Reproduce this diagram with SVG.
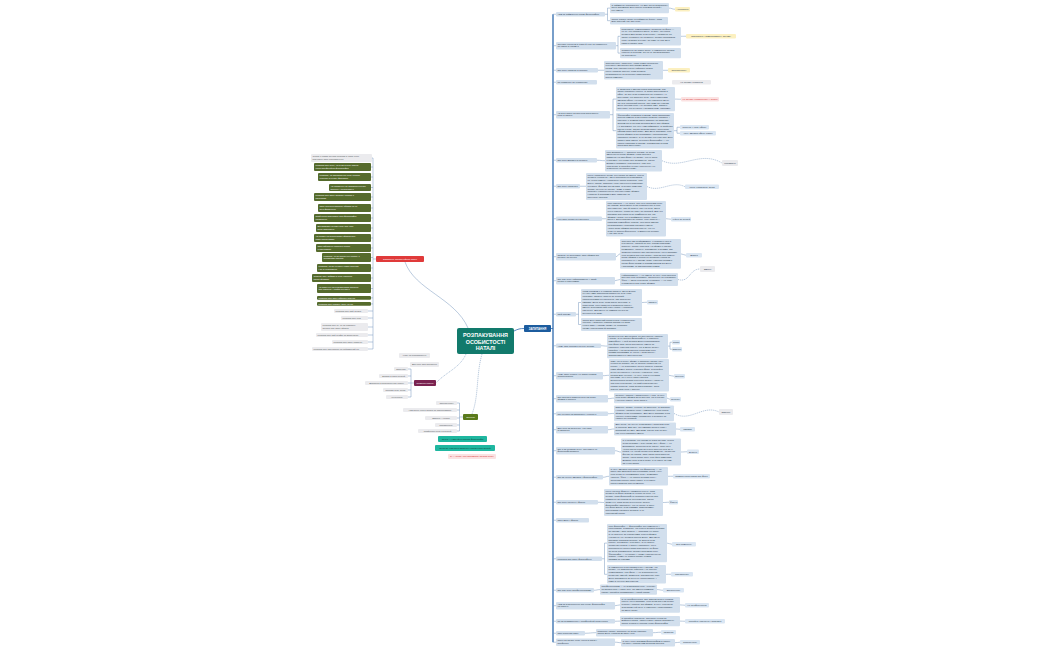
<svg xmlns="http://www.w3.org/2000/svg" width="1050" height="650" viewBox="0 0 1050 650">
<style>
.b{fill:#d2dfed}
.lb{fill:#dae6f3}
.y{fill:#fcf0c0}
.p{fill:#fbe2e2}
.g{fill:#ebebee}
.gr{fill:#566b2c}
.t{font-family:"Liberation Sans",Arial,sans-serif;font-size:2.4px;fill:#2d3e50}
.tw{font-family:"Liberation Sans",Arial,sans-serif;font-size:2.3px;fill:#ffffff}
.tg{font-family:"Liberation Sans",Arial,sans-serif;font-size:2.3px;fill:#555a60}
.tr{font-family:"Liberation Sans",Arial,sans-serif;font-size:2.4px;fill:#d93030}
.m{text-anchor:middle}
.c{fill:none;stroke:#7696bd;stroke-width:0.5}
.d{fill:none;stroke:#6f90b8;stroke-width:0.5;stroke-dasharray:1.2 0.8}
</style>
<rect width="1050" height="650" fill="#ffffff"/>
<g id="connectors">
<path d="M553 14.25V642.2" fill="none" stroke="#2f6aad" stroke-width="1.3"/>
<path class="c" d="M553 14.25H556M553 45.7H556M553 70.25H556M553 82.25H556M553 114.7H556M553 160.25H556M553 186.25H556M553 218.75H556M553 256.7H556M553 280.7H556M553 314.25H556M553 345.75H556M553 375.7H556M553 398.7H556M553 413.75H556M553 429.7H556M553 450.7H556M553 477.25H556M553 502.25H556M553 520.25H556M553 558.75H556M553 590.25H556M553 605.7H556M553 621.25H556M553 633.25H556M553 642.2H556"/>
<path d="M514 331C518 329 520 328.5 524 328.5M551 328.5H553" fill="none" stroke="#2f6aad" stroke-width="0.8"/>
<path class="c" d="M605 14.25H607.5M610 8.1H607.5V20.7H610M669 8.1C672 8.1 672 9.25 675 9.25"/>
<path class="c" d="M616 45.7H618M620 36.3H618V53.1H620M681 36.3C684 36.3 683 36.25 686 36.25"/>
<path class="c" d="M598 70.25H604M663 70.3H668"/>
<path class="c" d="M610 114.7H613M616 99.1H613V130.7H616M675 99.1C678 99.1 678 99.25 681 99.25M674 130.7H677M680 127.25H677V133.25H680"/>
<path class="c" d="M597 160.25C601 160.25 601 160.7 605 160.7"/>
<path class="d" d="M662 160.7C682 170 700 150 722 163"/>
<path class="c" d="M580 186.25H586"/>
<path class="d" d="M647 186.5C660 193 672 180 685 186.75"/>
<path class="c" d="M602 218.75H606M666 218.7C668 218.7 669 219.25 671 219.25"/>
<path class="c" d="M616 256.7C618 256.7 618 253.9 620 253.9M681 253.9C683 253.9 684 255.25 686 255.25"/>
<path class="c" d="M615 280.7C617 280.7 618 279.5 620 279.5"/>
<path class="d" d="M678 279.5C690 283 689 269 700 269"/>
<path class="c" d="M576 314.25H578.5M581 302.5H578.5V324.5H581M642 302.5C644 302.5 645 302.25 647 302.25"/>
<path class="c" d="M601 345.75C604 345.75 604 346.1 607 346.1M668 346.1H670M672 342.25H670V349.25H672"/>
<path class="c" d="M603 375.7C606 375.7 606 375.3 609 375.3M669 375.3C671 375.3 672 376.25 674 376.25"/>
<path class="c" d="M608 398.7C611 398.7 611 398.1 614 398.1M667 398.1C668 398.1 669 399.25 670 399.25"/>
<path class="c" d="M608 413.75C611 413.75 611 413.4 614 413.4"/>
<path class="d" d="M674 413.4C690 423 703 404 719 412"/>
<path class="c" d="M608 429.7C611 429.7 611 429 614 429M676 429C678 429 678 429.25 680 429.25"/>
<path class="c" d="M615 450.7C618 450.7 618 452 621 452M681 452C684 452 684 451.75 687 451.75"/>
<path class="c" d="M603 477.25C606 477.25 606 476.3 609 476.3M668 476.3C670 476.3 671 476.25 673 476.25"/>
<path class="c" d="M598 502.25C601 502.25 601 502.5 604 502.5M663 502.5C666 502.5 666 502.25 669 502.25"/>
<path class="c" d="M602 558.75H604.5M607 543.1H604.5V574.3H607M667 543.1C669 543.1 670 544.25 672 544.25M666 574.3C668 574.3 669 574.25 671 574.25"/>
<path class="c" d="M594 590.25C597 590.25 597 589.6 600 589.6M657 589.6C660 589.6 660 590.25 663 590.25"/>
<path class="c" d="M615 605.7C617 605.7 618 604.9 620 604.9M680 604.9C682 604.9 683 605.25 685 605.25"/>
<path class="c" d="M615 621.25C617 621.25 618 621.1 620 621.1M680 621.1C682 621.1 683 621.25 685 621.25"/>
<path class="c" d="M585 633.25C590 633.25 591 632.7 596 632.7M653 632.7C657 632.7 657 632.25 661 632.25"/>
<path class="c" d="M615 642.2C618 642.2 618 642.7 621 642.7M675 642.7C677 642.7 678 642.25 680 642.25"/>
<path class="c" d="M373 158V349M372 158H373M371 167H373M371 177H373M371 187.5H373M371 197H373M371 208H373M371 218H373M371 228H373M371 238H373M371 248H373M371 257.5H373M371 268H373M371 278H373M371 288.5H373M371 297.9H373M371 303.9H373M368 311H373M368 318H373M368 327H373M368 335H373M368 342H373M368 349H373M376 259H373"/>
<path class="c" d="M405 262C415 290 455 298 468 328"/>
<path class="d" d="M466 354C460 368 446 372 436 383"/>
<path class="c" d="M414 383H411M408 369H411V397H408M408 376H411M408 383H411M408 390H411"/>
<path class="d" d="M482 354C476 375 479 396 472 414"/>
<path class="c" d="M463 417H459.5M457 403H459.5V431H457M457 410H459.5M457 418H459.5M457 425H459.5"/>
</g>
<g id="center"><rect x="457" y="328" width="57" height="26" rx="2" fill="#127a6c"/><text class="m" x="485.5" y="337" font-family="Liberation Sans,Arial,sans-serif" font-size="5.4" font-weight="bold" fill="#fff">РОЗПАКУВАННЯ</text><text class="m" x="485.5" y="343.6" font-family="Liberation Sans,Arial,sans-serif" font-size="5.4" font-weight="bold" fill="#fff">ОСОБИСТОСТІ</text><text class="m" x="485.5" y="350.2" font-family="Liberation Sans,Arial,sans-serif" font-size="5.4" font-weight="bold" fill="#fff">НАТАЛІ</text></g>
<g id="zapytannia"><rect x="524" y="325" width="27" height="7" rx="1" fill="#1c5c9e"/><text class="m" x="537.5" y="329.6" font-family="Liberation Sans,Arial,sans-serif" font-size="2.8" font-weight="bold" fill="#fff">ЗАПИТАННЯ</text></g>
<g id="q1"><rect class="b" x="556" y="12" width="49" height="4.5" rx="1"/><text class="t" x="557.5" y="15.1">Чим ти займаєшся окрім фотографії?</text></g>
<g id="a1a"><rect class="b" x="610" y="3" width="59" height="10.2" rx="1"/><text class="t" x="611.5" y="5.6">Я займаюся астрологією, це моя друга пристрасть,<tspan x="611.5" dy="2.8">вона допомагає мені краще розуміти людей і</tspan><tspan x="611.5" dy="2.8">їхні емоції.</tspan></text></g>
<g id="a1b"><rect class="b" x="610" y="17" width="58" height="7.4" rx="1"/><text class="t" x="611.5" y="19.6">Також багато читаю та займаюся йогою, коли<tspan x="611.5" dy="2.8">маю вільний час для себе.</tspan></text></g>
<g id="l1"><rect class="y" x="675" y="7" width="15" height="4.5" rx="1"/><text class="t m" x="682.5" y="10.1">Астрологія</text></g>
<g id="q2"><rect class="b" x="556" y="42" width="60" height="7.4" rx="1"/><text class="t" x="557.5" y="44.6">Основні інтереси в житті й хобі та ставлення<tspan x="557.5" dy="2.8">до життя в цілому?</tspan></text></g>
<g id="a2a"><rect class="b" x="620" y="27" width="61" height="18.6" rx="1"/><text class="t" x="621.5" y="29.6">Психологія, саморозвиток, подорожі та фото —<tspan x="621.5" dy="2.8">це те, що наповнює мене. Я вірю, що кожна</tspan><tspan x="621.5" dy="2.8">людина має право бути собою, і ставлюся до</tspan><tspan x="621.5" dy="2.8">життя з повагою та цікавістю. Люблю відкривати</tspan><tspan x="621.5" dy="2.8">нове і вчитися в інших, бо саме це дає мені</tspan><tspan x="621.5" dy="2.8">сили рухатися далі.</tspan></text></g>
<g id="a2b"><rect class="b" x="620" y="48" width="61" height="10.2" rx="1"/><text class="t" x="621.5" y="50.6">Ставлення до життя легке, я намагаюся бачити<tspan x="621.5" dy="2.8">хороше в кожному дні та не зациклюватися</tspan><tspan x="621.5" dy="2.8">на дрібницях.</tspan></text></g>
<g id="l2"><rect class="y" x="686" y="34" width="50" height="4.5" rx="1"/><text class="t m" x="711" y="37.1">Психологія і саморозвиток у всьому</text></g>
<g id="q3"><rect class="b" x="556" y="68" width="42" height="4.5" rx="1"/><text class="t" x="557.5" y="71.1">Що тебе надихає в роботі?</text></g>
<g id="a3"><rect class="b" x="604" y="61" width="59" height="18.6" rx="1"/><text class="t" x="605.5" y="63.6">Спонтанність. Творчість. Коли немає жорсткого<tspan x="605.5" dy="2.8">сценарію і ми просто відчуваємо момент</tspan><tspan x="605.5" dy="2.8">разом, тоді народжуються найкращі кадри.</tspan><tspan x="605.5" dy="2.8">Мене надихає процес, коли людина</tspan><tspan x="605.5" dy="2.8">розкривається та перестає хвилюватися</tspan><tspan x="605.5" dy="2.8">перед камерою.</tspan></text></g>
<g id="l3"><rect class="y" x="668" y="68" width="22" height="4.5" rx="1"/><text class="t m" x="679" y="71.1">Спонтанність</text></g>
<g id="q4"><rect class="b" x="556" y="80" width="41" height="4.5" rx="1"/><text class="t" x="557.5" y="83.1">Як ставишся до шаблонів?</text></g>
<g id="l4"><rect class="g" x="672" y="80" width="39" height="4.5" rx="1"/><text class="t m" x="691.5" y="83.1">Не люблю шаблонів</text></g>
<g id="q5"><rect class="b" x="556" y="111" width="54" height="7.4" rx="1"/><text class="t" x="557.5" y="113.6">Чи відчуваєш ти процеси відбування<tspan x="557.5" dy="2.8">себе в житті?</tspan></text></g>
<g id="a5a"><rect class="b" x="616" y="87" width="59" height="24.2" rx="1"/><text class="t" x="617.5" y="89.6">У дитинстві я мріяла стати психологом, але<tspan x="617.5" dy="2.8">життя склалося інакше. Я довго працювала в</tspan><tspan x="617.5" dy="2.8">офісі, де все було розписано по шаблону, і я</tspan><tspan x="617.5" dy="2.8">відчувала, що втрачаю себе. Тоді я вирішила</tspan><tspan x="617.5" dy="2.8">змінити сферу і шукати те, що наповнює мене.</tspan><tspan x="617.5" dy="2.8">Це був непростий період, але саме він навчив</tspan><tspan x="617.5" dy="2.8">мене слухати себе і не боятися змін. Зараз я</tspan><tspan x="617.5" dy="2.8">відчуваю, що рухаюся у правильному напрямку.</tspan></text></g>
<g id="a5b"><rect class="b" x="616" y="113" width="58" height="35.4" rx="1"/><text class="t" x="617.5" y="115.6">Фотографія з'явилася в моєму житті випадково.<tspan x="617.5" dy="2.8">Перша камера була подарунком від чоловіка, і</tspan><tspan x="617.5" dy="2.8">спочатку я знімала лише природу та близьких.</tspan><tspan x="617.5" dy="2.8">Згодом друзі почали просити мене про зйомки,</tspan><tspan x="617.5" dy="2.8">і я зрозуміла, що хочу цим займатися. Я пройшла</tspan><tspan x="617.5" dy="2.8">кілька курсів, багато практикувала і поступово</tspan><tspan x="617.5" dy="2.8">сформувала свій стиль. Для мене важливо, щоб</tspan><tspan x="617.5" dy="2.8">кожна зйомка була особливою і відображала</tspan><tspan x="617.5" dy="2.8">справжню людину. Я не люблю штучних поз, мені</tspan><tspan x="617.5" dy="2.8">ближчі живі емоції. Сьогодні фотографія — це</tspan><tspan x="617.5" dy="2.8">спосіб говорити зі світом і допомагати жінкам</tspan><tspan x="617.5" dy="2.8">побачити свою красу.</tspan></text></g>
<g id="l5a"><rect class="p" x="681" y="97" width="38" height="4.5" rx="1"/><text class="tr m" x="700" y="100.1">Не люблю шаблонність у людях</text></g>
<g id="l5b"><rect class="lb" x="680" y="125" width="29" height="4.5" rx="1"/><text class="t m" x="694.5" y="128.1">Перехід у нову сферу</text></g>
<g id="l5c"><rect class="lb" x="680" y="131" width="36" height="4.5" rx="1"/><text class="t m" x="698" y="134.1">Хочу змінити сферу життя</text></g>
<g id="q6"><rect class="b" x="556" y="158" width="41" height="4.5" rx="1"/><text class="t" x="557.5" y="161.1">Що тебе мотивує в роботі?</text></g>
<g id="a6"><rect class="b" x="605" y="150" width="57" height="21.4" rx="1"/><text class="t" x="606.5" y="152.6">Моя мотивація — бажання бачити, як люди<tspan x="606.5" dy="2.8">змінюються після зйомки. Коли клієнтка</tspan><tspan x="606.5" dy="2.8">дивиться на свої фото і не вірить, що це вона,</tspan><tspan x="606.5" dy="2.8">я розумію, що роблю все правильно. Також</tspan><tspan x="606.5" dy="2.8">мотивує розвиток: нові локації, нові ідеї,</tspan><tspan x="606.5" dy="2.8">нові люди. Я постійно шукаю натхнення і не</tspan><tspan x="606.5" dy="2.8">зупиняюся на досягнутому.</tspan></text></g>
<g id="l6"><rect class="g" x="722" y="160" width="16" height="6" rx="1"/><text class="t m" x="730" y="163.9">Мотивація</text></g>
<g id="q7"><rect class="b" x="556" y="184" width="24" height="4.5" rx="1"/><text class="t" x="557.5" y="187.1">Що тебе надихає?</text></g>
<g id="a7"><rect class="b" x="586" y="173" width="61" height="27" rx="1"/><text class="t" x="587.5" y="175.6">Мене надихають люди, їхні історії та емоції. Кожна<tspan x="587.5" dy="2.8">людина унікальна, і мені подобається відкривати</tspan><tspan x="587.5" dy="2.8">це через камеру. Надихають також подорожі, нові</tspan><tspan x="587.5" dy="2.8">місця, світло, природа. Іноді натхнення приходить</tspan><tspan x="587.5" dy="2.8">з книжок, фільмів або музики. Я люблю помічати</tspan><tspan x="587.5" dy="2.8">деталі, які інші не бачать. Саме з таких</tspan><tspan x="587.5" dy="2.8">дрібниць народжуються ідеї для нових зйомок.</tspan><tspan x="587.5" dy="2.8">Надихає й підтримка моїх близьких та</tspan><tspan x="587.5" dy="2.8">вдячність клієнтів.</tspan></text></g>
<g id="l7"><rect class="lb" x="685" y="184.5" width="34" height="4.5" rx="1"/><text class="t m" x="702" y="187.6">Мене надихають люди</text></g>
<g id="q8"><rect class="b" x="556" y="216.5" width="46" height="4.5" rx="1"/><text class="t" x="557.5" y="219.6">Хто твоя ідеальна клієнтка?</text></g>
<g id="a8"><rect class="b" x="606" y="201" width="60" height="35.4" rx="1"/><text class="t" x="607.5" y="203.6">Моя клієнтка — це жінка, яка хоче побачити себе<tspan x="607.5" dy="2.8">по-новому. Вона може бути невпевненою в собі</tspan><tspan x="607.5" dy="2.8">або сильною, але їй бракує часу на себе. Вона</tspan><tspan x="607.5" dy="2.8">цінує щирість, тепло та увагу до деталей. Для неї</tspan><tspan x="607.5" dy="2.8">важливо відчувати себе комфортно під час</tspan><tspan x="607.5" dy="2.8">зйомки і знати, що її приймають такою, якою</tspan><tspan x="607.5" dy="2.8">вона є. Вона відкрита до нового. Моя задача —</tspan><tspan x="607.5" dy="2.8">створити атмосферу довіри, щоб вона змогла</tspan><tspan x="607.5" dy="2.8">розслабитися і показати справжні емоції.</tspan><tspan x="607.5" dy="2.8">Часто після зйомки клієнтки кажуть, що це</tspan><tspan x="607.5" dy="2.8">була не просто фотосесія, а маленька терапія</tspan><tspan x="607.5" dy="2.8">і час для себе.</tspan></text></g>
<g id="l8"><rect class="lb" x="671" y="217" width="20" height="4.5" rx="1"/><text class="t m" x="681" y="220.1">Чуйна до людей</text></g>
<g id="q9"><rect class="b" x="556" y="253" width="60" height="7.4" rx="1"/><text class="t" x="557.5" y="255.6">Опиши, як проходить твоя зйомка від<tspan x="557.5" dy="2.8">початку до кінця?</tspan></text></g>
<g id="a9"><rect class="b" x="620" y="239" width="61" height="29.8" rx="1"/><text class="t" x="621.5" y="241.6">Спочатку ми знайомимося, я розпитую про її<tspan x="621.5" dy="2.8">очікування, настрій та ідеї. Разом обираємо</tspan><tspan x="621.5" dy="2.8">локацію, образ і кольори. На зйомці я багато</tspan><tspan x="621.5" dy="2.8">розмовляю, жартую, допомагаю з позами, але</tspan><tspan x="621.5" dy="2.8">залишаю простір для спонтанності. Мені важливо,</tspan><tspan x="621.5" dy="2.8">щоб людина відчула довіру і забула про камеру.</tspan><tspan x="621.5" dy="2.8">Після зйомки я ретельно відбираю кадри та</tspan><tspan x="621.5" dy="2.8">обробляю їх у своєму стилі. Клієнтка отримує</tspan><tspan x="621.5" dy="2.8">готові фото разом із теплим листом від мене</tspan><tspan x="621.5" dy="2.8">і порадами, як використати знімки.</tspan></text></g>
<g id="l9"><rect class="lb" x="686" y="253" width="16" height="4.5" rx="1"/><text class="t m" x="694" y="256.1">Довіра</text></g>
<g id="q10"><rect class="b" x="556" y="277" width="59" height="7.4" rx="1"/><text class="t" x="557.5" y="279.6">Що для тебе найважливіше у твоїй<tspan x="557.5" dy="2.8">роботі з клієнтами?</tspan></text></g>
<g id="a10"><rect class="b" x="620" y="273" width="58" height="13" rx="1"/><text class="t" x="621.5" y="275.6">Найважливіше — це емоції. Я хочу, щоб клієнтка<tspan x="621.5" dy="2.8">відчула себе красивою, впевненою та щасливою.</tspan><tspan x="621.5" dy="2.8">Фото — лише результат, а головне — це стан,</tspan><tspan x="621.5" dy="2.8">з яким вона піде після зйомки.</tspan></text></g>
<g id="l10"><rect class="g" x="700" y="266" width="15" height="6" rx="1"/><text class="t m" x="707.5" y="269.9">Емоції</text></g>
<g id="q11"><rect class="b" x="556" y="312" width="20" height="4.5" rx="1"/><text class="t" x="557.5" y="315.1">Твій тотем?</text></g>
<g id="a11a"><rect class="b" x="581" y="289" width="61" height="27" rx="1"/><text class="t" x="582.5" y="291.6">Моїм тотемом я б назвала лисицю. Вона мудра,<tspan x="582.5" dy="2.8">гнучка і вміє пристосовуватися до будь-яких</tspan><tspan x="582.5" dy="2.8">обставин. Лисиця уважна до деталей,</tspan><tspan x="582.5" dy="2.8">спостережлива та обережна, але водночас</tspan><tspan x="582.5" dy="2.8">смілива. Вона знає, коли варто зачекати, а</tspan><tspan x="582.5" dy="2.8">коли діяти. Мені близька її природна грація і</tspan><tspan x="582.5" dy="2.8">вміння знаходити свій шлях навіть у складних</tspan><tspan x="582.5" dy="2.8">ситуаціях. Для мене це символ інтуїції та</tspan><tspan x="582.5" dy="2.8">внутрішньої сили.</tspan></text></g>
<g id="a11b"><rect class="b" x="581" y="318" width="61" height="13" rx="1"/><text class="t" x="582.5" y="320.6">Також мені близький образ кішки: незалежність,<tspan x="582.5" dy="2.8">ніжність і здатність завжди падати на лапи.</tspan><tspan x="582.5" dy="2.8">Кішка живе у своєму ритмі і не дозволяє</tspan><tspan x="582.5" dy="2.8">нікому нав'язувати їй правила.</tspan></text></g>
<g id="l11"><rect class="lb" x="647" y="300" width="11" height="4.5" rx="1"/><text class="t m" x="652.5" y="303.1">Лисиця</text></g>
<g id="q12"><rect class="b" x="556" y="343.5" width="45" height="4.5" rx="1"/><text class="t" x="557.5" y="346.6">Чому твої роботи купують люди?</text></g>
<g id="a12"><rect class="b" x="607" y="334" width="61" height="24.2" rx="1"/><text class="t" x="608.5" y="336.6">Люди купують мої роботи, бо відчувають щирість<tspan x="608.5" dy="2.8">і тепло. Я не просто фотографую, я створюю</tspan><tspan x="608.5" dy="2.8">атмосферу, у якій людина може розслабитися.</tspan><tspan x="608.5" dy="2.8">Мої фото живі, вони передають емоції та</tspan><tspan x="608.5" dy="2.8">характер. Клієнтки кажуть, що зі мною легко і</tspan><tspan x="608.5" dy="2.8">спокійно, і що вони вперше побачили себе</tspan><tspan x="608.5" dy="2.8">такими красивими. Я чесна у спілкуванні і</tspan><tspan x="608.5" dy="2.8">завжди виконую свої обіцянки.</tspan></text></g>
<g id="l12a"><rect class="lb" x="672" y="340" width="8" height="4.5" rx="1"/><text class="t m" x="676" y="343.1">Тепло</text></g>
<g id="l12b"><rect class="lb" x="672" y="347" width="10" height="4.5" rx="1"/><text class="t m" x="677" y="350.1">Щирість</text></g>
<g id="q13"><rect class="b" x="556" y="372" width="47" height="7.4" rx="1"/><text class="t" x="557.5" y="374.6">Чому твою роботу не варто робити<tspan x="557.5" dy="2.8">безкоштовно?</tspan></text></g>
<g id="a13"><rect class="b" x="609" y="359" width="60" height="32.6" rx="1"/><text class="t" x="610.5" y="361.6">Тому що в кожну зйомку я вкладаю багато часу,<tspan x="610.5" dy="2.8">енергії та досвіду. Це не просто натиснути на</tspan><tspan x="610.5" dy="2.8">кнопку — це підготовка, пошук локації, образів,</tspan><tspan x="610.5" dy="2.8">сама зйомка, відбір і обробка фото. Я постійно</tspan><tspan x="610.5" dy="2.8">вчуся та інвестую у техніку і навчання. Моя</tspan><tspan x="610.5" dy="2.8">робота має цінність, і я хочу, щоб її цінували</tspan><tspan x="610.5" dy="2.8">так само, як я ціную своїх клієнтів.</tspan><tspan x="610.5" dy="2.8">Безкоштовна робота знецінює працю і часто не</tspan><tspan x="610.5" dy="2.8">дає того результату, на який розраховують</tspan><tspan x="610.5" dy="2.8">обидві сторони. Коли людина платить, вона</tspan><tspan x="610.5" dy="2.8">більше залучена у процес.</tspan></text></g>
<g id="l13"><rect class="lb" x="674" y="374" width="11" height="4.5" rx="1"/><text class="t m" x="679.5" y="377.1">Цінність</text></g>
<g id="q14"><rect class="b" x="556" y="395" width="52" height="7.4" rx="1"/><text class="t" x="557.5" y="397.6">Що клієнтка повинна відчути після<tspan x="557.5" dy="2.8">зйомки з тобою?</tspan></text></g>
<g id="a14"><rect class="b" x="614" y="393" width="53" height="10.2" rx="1"/><text class="t" x="615.5" y="395.6">Легкість, радість і впевненість у собі. Я хочу,<tspan x="615.5" dy="2.8">щоб після зйомки вона відчула, що її бачать</tspan><tspan x="615.5" dy="2.8">і цінують такою, якою вона є.</tspan></text></g>
<g id="l14"><rect class="lb" x="670" y="397" width="11" height="4.5" rx="1"/><text class="t m" x="675.5" y="400.1">Легкість</text></g>
<g id="q15"><rect class="b" x="556" y="411.5" width="52" height="4.5" rx="1"/><text class="t" x="557.5" y="414.6">Які цінності ти вкладаєш у роботу?</text></g>
<g id="a15"><rect class="b" x="614" y="405.5" width="60" height="15.8" rx="1"/><text class="t" x="615.5" y="408.1">Щирість, повагу, турботу та творчість. Я вкладаю<tspan x="615.5" dy="2.8">у роботу частинку себе і намагаюся, щоб кожна</tspan><tspan x="615.5" dy="2.8">зйомка була особливою. Для мене важливо бути</tspan><tspan x="615.5" dy="2.8">чесною з клієнтами і робити все з любов'ю та</tspan><tspan x="615.5" dy="2.8">увагою до деталей.</tspan></text></g>
<g id="l15"><rect class="g" x="719" y="409" width="14" height="6" rx="1"/><text class="t m" x="726" y="412.9">Щирість</text></g>
<g id="q16"><rect class="b" x="556" y="426" width="52" height="7.4" rx="1"/><text class="t" x="557.5" y="428.6">Для кого ти працюєш, хто твоя<tspan x="557.5" dy="2.8">аудиторія?</tspan></text></g>
<g id="a16"><rect class="b" x="614" y="422.5" width="62" height="13" rx="1"/><text class="t" x="615.5" y="425.1">Для жінок, які хочуть зупинитися і побачити себе<tspan x="615.5" dy="2.8">зі сторони. Для тих, хто сміливо пробує нове і</tspan><tspan x="615.5" dy="2.8">відкритий до змін. Для мам, дівчат, пар та всіх,</tspan><tspan x="615.5" dy="2.8">хто цінує справжні емоції.</tspan></text></g>
<g id="l16"><rect class="lb" x="680" y="427" width="15" height="4.5" rx="1"/><text class="t m" x="687.5" y="430.1">Сміливі</text></g>
<g id="q17"><rect class="b" x="556" y="447" width="59" height="7.4" rx="1"/><text class="t" x="557.5" y="449.6">Що б ти сказала жінці, яка давно не<tspan x="557.5" dy="2.8">фотографувалася?</tspan></text></g>
<g id="a17"><rect class="b" x="621" y="438.5" width="60" height="27" rx="1"/><text class="t" x="622.5" y="441.1">Я б сказала, що ніколи не пізно почати. Кожна<tspan x="622.5" dy="2.8">жінка красива у будь-якому віці, і фото — це</tspan><tspan x="622.5" dy="2.8">можливість зберегти себе такою, якою ти є.</tspan><tspan x="622.5" dy="2.8">Через кілька років ти будеш вдячна собі за ці</tspan><tspan x="622.5" dy="2.8">кадри. Не чекай ідеального моменту, ідеальної</tspan><tspan x="622.5" dy="2.8">фігури чи нагоди. Твоє життя відбувається</tspan><tspan x="622.5" dy="2.8">зараз, і воно варте того, щоб його пам'ятати.</tspan><tspan x="622.5" dy="2.8">Дозволь собі бути в кадрі, а не лише за ним.</tspan><tspan x="622.5" dy="2.8">Ти цього варта.</tspan></text></g>
<g id="l17"><rect class="lb" x="687" y="449.5" width="12" height="4.5" rx="1"/><text class="t m" x="693" y="452.6">Вчасно</text></g>
<g id="q18"><rect class="b" x="556" y="475" width="47" height="4.5" rx="1"/><text class="t" x="557.5" y="478.1">Що ти хочеш змінити у фотографії?</text></g>
<g id="a18"><rect class="b" x="609" y="467" width="59" height="18.6" rx="1"/><text class="t" x="610.5" y="469.6">Я хочу змінити стереотип, що фотосесія — це<tspan x="610.5" dy="2.8">лише для моделей або особливих подій. Хочу,</tspan><tspan x="610.5" dy="2.8">щоб жінки не соромилися себе і знімалися</tspan><tspan x="610.5" dy="2.8">частіше. Фото — це спосіб любити себе і</tspan><tspan x="610.5" dy="2.8">зберігати історію свого життя, а не лише</tspan><tspan x="610.5" dy="2.8">гарна картинка для соцмереж.</tspan></text></g>
<g id="l18"><rect class="lb" x="673" y="474" width="37" height="4.5" rx="1"/><text class="t m" x="691.5" y="477.1">Ламати стереотипи про фото</text></g>
<g id="q19"><rect class="b" x="556" y="500" width="42" height="4.5" rx="1"/><text class="t" x="557.5" y="503.1">Що тебе обурює у фото?</text></g>
<g id="a19"><rect class="b" x="604" y="489" width="59" height="27" rx="1"/><text class="t" x="605.5" y="491.6">Мене обурює фальш і надмірна ретуш, коли<tspan x="605.5" dy="2.8">людина на фото зовсім не схожа на себе. Не</tspan><tspan x="605.5" dy="2.8">люблю, коли фотограф не поважає клієнта або</tspan><tspan x="605.5" dy="2.8">ставиться до роботи як до конвеєра. Також</tspan><tspan x="605.5" dy="2.8">засмучує, коли люди знецінюють працю</tspan><tspan x="605.5" dy="2.8">фотографа і вважають, що це легко. Я вірю,</tspan><tspan x="605.5" dy="2.8">що фото мають бути живими, природними і</tspan><tspan x="605.5" dy="2.8">передавати характер людини, а не</tspan><tspan x="605.5" dy="2.8">нав'язаний образ.</tspan></text></g>
<g id="l19"><rect class="lb" x="669" y="500" width="9" height="4.5" rx="1"/><text class="t m" x="673.5" y="503.1">Фальш</text></g>
<g id="q20"><rect class="b" x="556" y="518" width="33" height="4.5" rx="1"/><text class="t" x="557.5" y="521.1">Твоя місія у фото?</text></g>
<g id="q21"><rect class="b" x="556" y="556.5" width="46" height="4.5" rx="1"/><text class="t" x="557.5" y="559.6">Розкажи про свою філософію?</text></g>
<g id="a21a"><rect class="b" x="607" y="524" width="60" height="38.2" rx="1"/><text class="t" x="608.5" y="526.6">Моя філософія — фотографія без обмежень і<tspan x="608.5" dy="2.8">стереотипів. Я вважаю, що кожна людина красива</tspan><tspan x="608.5" dy="2.8">по-своєму, і моя задача — показати цю красу.</tspan><tspan x="608.5" dy="2.8">Я не працюю за шаблонами, кожна зйомка</tspan><tspan x="608.5" dy="2.8">унікальна, як і людина переді мною. Для мене</tspan><tspan x="608.5" dy="2.8">важливо створити простір, де можна бути</tspan><tspan x="608.5" dy="2.8">собою, без масок і очікувань. Я не прагну</tspan><tspan x="608.5" dy="2.8">ідеальних кадрів, я прагну справжніх. Мені</tspan><tspan x="608.5" dy="2.8">подобається поєднувати психологію та фото,</tspan><tspan x="608.5" dy="2.8">бо вони допомагають людині зрозуміти себе.</tspan><tspan x="608.5" dy="2.8">Фотографія — це діалог, у якому народжується</tspan><tspan x="608.5" dy="2.8">довіра. І саме ця довіра робить знімки</tspan><tspan x="608.5" dy="2.8">живими та щирими.</tspan></text></g>
<g id="a21b"><rect class="b" x="607" y="565" width="59" height="18.6" rx="1"/><text class="t" x="608.5" y="567.6">Я намагаюся бути справжньою у всьому, що<tspan x="608.5" dy="2.8">роблю. Не прикрашаю дійсність і не обіцяю</tspan><tspan x="608.5" dy="2.8">неможливого. Мої фото — це відображення</tspan><tspan x="608.5" dy="2.8">реальних емоцій і моментів. Справжність для</tspan><tspan x="608.5" dy="2.8">мене важливіша за технічну досконалість, і</tspan><tspan x="608.5" dy="2.8">саме її цінують мої клієнти.</tspan></text></g>
<g id="l21a"><rect class="lb" x="672" y="542" width="24" height="4.5" rx="1"/><text class="t m" x="684" y="545.1">Без обмежень</text></g>
<g id="l21b"><rect class="lb" x="671" y="572" width="22" height="4.5" rx="1"/><text class="t m" x="682" y="575.1">Справжність</text></g>
<g id="q22"><rect class="b" x="556" y="588" width="38" height="4.5" rx="1"/><text class="t" x="557.5" y="591.1">Що для тебе професіоналізм?</text></g>
<g id="a22"><rect class="b" x="600" y="584.5" width="57" height="10.2" rx="1"/><text class="t" x="601.5" y="587.1">Професіоналізм — це відповідальність, чесність<tspan x="601.5" dy="2.8">та впевненість у своїх діях. Це вміння тримати</tspan><tspan x="601.5" dy="2.8">слово і постійно розвиватися у своїй справі.</tspan></text></g>
<g id="l22"><rect class="lb" x="663" y="588" width="21" height="4.5" rx="1"/><text class="t m" x="673.5" y="591.1">Впевненість</text></g>
<g id="q23"><rect class="b" x="556" y="602" width="59" height="7.4" rx="1"/><text class="t" x="557.5" y="604.6">Чим ти відрізняєшся від інших фотографів<tspan x="557.5" dy="2.8">на ринку?</tspan></text></g>
<g id="a23"><rect class="b" x="620" y="597" width="60" height="15.8" rx="1"/><text class="t" x="621.5" y="599.6">Я не перфекціоніст, але завжди прагну робити<tspan x="621.5" dy="2.8">якісно. Мені важливо, щоб люди відчули тепло,</tspan><tspan x="621.5" dy="2.8">турботу і радість від зйомки. Я хочу, щоб вони</tspan><tspan x="621.5" dy="2.8">згадували цей день з усмішкою і поверталися</tspan><tspan x="621.5" dy="2.8">до мене знову.</tspan></text></g>
<g id="l23"><rect class="lb" x="685" y="603" width="24" height="4.5" rx="1"/><text class="t m" x="697" y="606.1">Не перфекціоніст</text></g>
<g id="q24"><rect class="b" x="556" y="619" width="59" height="4.5" rx="1"/><text class="t" x="557.5" y="622.1">Як ти розвиваєшся у професійній діяльності?</text></g>
<g id="a24"><rect class="b" x="620" y="616" width="60" height="10.2" rx="1"/><text class="t" x="621.5" y="618.6">Я постійно навчаюся, проходжу курси та<tspan x="621.5" dy="2.8">майстер-класи, читаю книги і багато практикую.</tspan><tspan x="621.5" dy="2.8">Також аналізую роботи інших фотографів.</tspan></text></g>
<g id="l24"><rect class="lb" x="685" y="619" width="40" height="4.5" rx="1"/><text class="t m" x="705" y="622.1">Постійне навчання і практика</text></g>
<g id="q25"><rect class="b" x="556" y="631" width="29" height="4.5" rx="1"/><text class="t" x="557.5" y="634.1">Твої джерела сил?</text></g>
<g id="a25"><rect class="b" x="596" y="629" width="57" height="7.4" rx="1"/><text class="t" x="597.5" y="631.6">Природа, світло, подорожі та люди навколо.<tspan x="597.5" dy="2.8">Також мене надихає музика і кіно.</tspan></text></g>
<g id="l25"><rect class="lb" x="661" y="630" width="15" height="4.5" rx="1"/><text class="t m" x="668.5" y="633.1">Природа</text></g>
<g id="q26"><rect class="b" x="556" y="638.5" width="59" height="7.4" rx="1"/><text class="t" x="557.5" y="641.1">Якою ти бачиш себе через 5 років у<tspan x="557.5" dy="2.8">професії?</tspan></text></g>
<g id="a26"><rect class="b" x="621" y="639" width="54" height="7.4" rx="1"/><text class="t" x="622.5" y="641.6">Я бачу себе відомим фотографом зі своєю<tspan x="622.5" dy="2.8">студією і стабільним потоком клієнтів.</tspan></text></g>
<g id="l26"><rect class="lb" x="680" y="640" width="20" height="4.5" rx="1"/><text class="t m" x="690" y="643.1">Стабільність</text></g>
<g id="business"><rect x="376" y="256" width="48" height="6" rx="1" fill="#e03a3a"/><text class="tw m" x="400" y="259.8">Запитання ділової сфери життя</text></g>
<g id="g0"><rect class="g" x="311" y="154" width="61" height="8" rx="1"/><text class="tg" x="312.5" y="157.3">Скажи з якими трьома подіями в житті було<tspan x="312.5" dy="2.7">пов'язано твоє становлення?</tspan></text></g>
<g id="g1"><rect class="gr" x="314" y="163" width="57" height="8" rx="1"/><text class="tw" x="315.5" y="166.3">Розкажи про себе, чи були в тебе плани<tspan x="315.5" dy="2.7">щодо професійної фотографії?</tspan></text></g>
<g id="g2"><rect class="gr" x="318" y="173" width="53" height="8" rx="1"/><text class="tw" x="319.5" y="176.3">Розкажи, чи задовольняє тебе робота<tspan x="319.5" dy="2.7">сьогодні в цьому форматі?</tspan></text></g>
<g id="g3"><rect class="gr" x="329" y="184" width="42" height="7" rx="1"/><text class="tw" x="330.5" y="186.9">Чи отримуєш ти задоволення від<tspan x="330.5" dy="2.7">процесу і результату?</tspan></text></g>
<g id="g4"><rect class="gr" x="314" y="193" width="57" height="8" rx="1"/><text class="tw" x="315.5" y="196.3">Розкажи про свою систему роботи з<tspan x="315.5" dy="2.7">клієнтами</tspan></text></g>
<g id="g5"><rect class="gr" x="318" y="204" width="53" height="8" rx="1"/><text class="tw" x="319.5" y="207.3">Твоя середня вартість зйомки та як<tspan x="319.5" dy="2.7">ти її формуєш?</tspan></text></g>
<g id="g6"><rect class="gr" x="314" y="214" width="57" height="8" rx="1"/><text class="tw" x="315.5" y="217.3">Який дохід приносить тобі фотографія<tspan x="315.5" dy="2.7">щомісяця?</tspan></text></g>
<g id="g7"><rect class="gr" x="316" y="224" width="55" height="8" rx="1"/><text class="tw" x="317.5" y="227.3">Що впливає на твої ціни і від чого<tspan x="317.5" dy="2.7">вони залежать?</tspan></text></g>
<g id="g8"><rect class="gr" x="314" y="234" width="57" height="8" rx="1"/><text class="tw" x="315.5" y="237.3">Чи робиш ти безкоштовні зйомки або<tspan x="315.5" dy="2.7">обмін послугами?</tspan></text></g>
<g id="g9"><rect class="gr" x="316" y="244" width="55" height="8" rx="1"/><text class="tw" x="317.5" y="247.3">Твої найбільші страхи в роботі<tspan x="317.5" dy="2.7">з клієнтами?</tspan></text></g>
<g id="g10"><rect class="gr" x="322" y="253" width="49" height="9" rx="1"/><text class="tw" x="323.5" y="256.6">Розкажи, як ти поєднуєш роботу з<tspan x="323.5" dy="2.7">особистим життям</tspan></text></g>
<g id="g11"><rect class="gr" x="317" y="264" width="54" height="8" rx="1"/><text class="tw" x="318.5" y="267.3">Розкажи, як ти шукаєш нових клієнтів<tspan x="318.5" dy="2.7">і де їх знаходиш?</tspan></text></g>
<g id="g12"><rect class="gr" x="312" y="274" width="59" height="8" rx="1"/><text class="tw" x="313.5" y="277.3">Скільки часу займає в тебе обробка<tspan x="313.5" dy="2.7">однієї зйомки?</tspan></text></g>
<g id="g13"><rect class="gr" x="317" y="284" width="54" height="9" rx="1"/><text class="tw" x="318.5" y="287.6">Чи плануєш ти розширювати послуги<tspan x="318.5" dy="2.7">або команду у майбутньому?</tspan></text></g>
<g id="g14"><rect class="gr" x="317" y="296" width="54" height="3.8" rx="1"/><text class="tw" x="318.5" y="298.7">Розкажи про свої найкращі відгуки</text></g>
<g id="g15"><rect class="gr" x="317" y="302" width="54" height="3.8" rx="1"/><text class="tw" x="318.5" y="304.7">Розкажи про головну мету на рік</text></g>
<g id="h1"><rect class="g" x="334" y="309" width="34" height="4" rx="1"/><text class="tg" x="335.5" y="311.8">Розкажи про свій досвід</text></g>
<g id="h2"><rect class="g" x="341" y="316" width="27" height="4" rx="1"/><text class="tg" x="342.5" y="318.8">Розкажи про ціни</text></g>
<g id="h3"><rect class="g" x="321" y="323" width="47" height="8" rx="1"/><text class="tg" x="322.5" y="326.3">Розкажи про те, як ти обираєш<tspan x="322.5" dy="2.7">локації для своїх зйомок</tspan></text></g>
<g id="h4"><rect class="g" x="316" y="333" width="52" height="4" rx="1"/><text class="tg" x="317.5" y="335.8">Розкажи про свій графік та відпочинок</text></g>
<g id="h5"><rect class="g" x="332" y="340" width="36" height="4" rx="1"/><text class="tg" x="333.5" y="342.8">Розкажи про свою команду</text></g>
<g id="h6"><rect class="g" x="312" y="347" width="56" height="4" rx="1"/><text class="tg" x="313.5" y="349.8">Розкажи про свої плани на найближчий рік</text></g>
<g id="f1"><rect class="g" x="399" y="353" width="31" height="5" rx="1"/><text class="tg m" x="414.5" y="356.3">Кому ти допомагаєш?</text></g>
<g id="f2"><rect class="g" x="410" y="362" width="29" height="5" rx="1"/><text class="tg m" x="424.5" y="365.3">Для кого твої промоції?</text></g>
<g id="positioning"><rect x="414" y="380" width="22" height="6" rx="1" fill="#7a2350"/><text class="tw m" x="425" y="383.8">Позиціонування</text></g>
<g id="p1"><rect class="g" x="394" y="367" width="14" height="4" rx="1"/><text class="tg m" x="401" y="369.8">Творчість</text></g>
<g id="p2"><rect class="g" x="379" y="374" width="29" height="4" rx="1"/><text class="tg m" x="393.5" y="376.8">Запити в житті людей</text></g>
<g id="p3"><rect class="g" x="365" y="381" width="43" height="4" rx="1"/><text class="tg m" x="386.5" y="383.8">Допомога в психологічних ролях</text></g>
<g id="p4"><rect class="g" x="383" y="388" width="25" height="4" rx="1"/><text class="tg m" x="395.5" y="390.8">Прояви себе жінки</text></g>
<g id="p5"><rect class="g" x="386" y="395" width="22" height="4" rx="1"/><text class="tg m" x="397" y="397.8">Жіночність</text></g>
<g id="values"><rect x="463" y="414" width="15" height="6" rx="1" fill="#5a7a1c"/><text class="tw m" x="470.5" y="417.8">Цінності</text></g>
<g id="o1"><rect class="g" x="436" y="401" width="21" height="4" rx="1"/><text class="tg m" x="446.5" y="403.8">Спонтанність</text></g>
<g id="o2"><rect class="g" x="403" y="408" width="54" height="4" rx="1"/><text class="tg m" x="430" y="410.8">Навчання через досвід та саморозвиток</text></g>
<g id="o3"><rect class="g" x="425" y="416" width="32" height="4" rx="1"/><text class="tg m" x="441" y="418.8">Щирість у роботі</text></g>
<g id="o4"><rect class="g" x="435" y="423" width="22" height="4" rx="1"/><text class="tg m" x="446" y="425.8">Справжність</text></g>
<g id="o5"><rect class="g" x="418" y="429" width="39" height="4" rx="1"/><text class="tg m" x="437.5" y="431.8">Прийняття себе та людей</text></g>
<g id="t1"><rect x="438" y="436" width="49" height="6" rx="1" fill="#1fb7a0"/><text class="t m" x="462.5" y="439.8" style="fill:#0b3b35">Точка А: емоційна робота фотографа</text></g>
<g id="t2"><rect x="435" y="445" width="60" height="6" rx="1" fill="#1fb7a0"/><text class="t m" x="465" y="448.8" style="fill:#0b3b35">Точка Б: навчання власної унікальності людей</text></g>
<g id="t3"><rect class="p" x="448" y="454" width="48" height="5" rx="1"/><text class="tr m" x="472" y="457.4">Я — жінка, яка допомагає бачити красу</text></g>
</svg>
